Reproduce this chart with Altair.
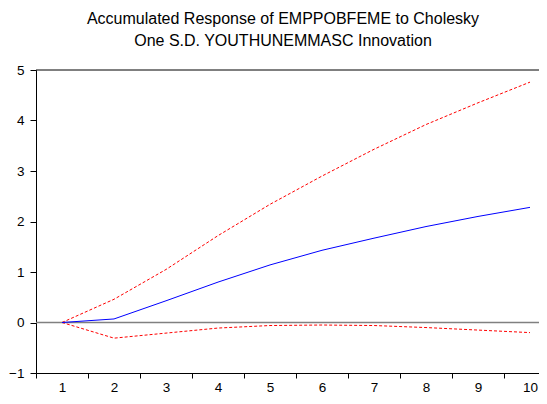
import altair as alt
import pandas as pd

periods = [1, 2, 3, 4, 5, 6, 7, 8, 9, 10]
response = [0.0, 0.07, 0.43, 0.80, 1.14, 1.43, 1.67, 1.90, 2.10, 2.28]
upper = [0.0, 0.46, 1.05, 1.72, 2.34, 2.90, 3.43, 3.92, 4.35, 4.76]
lower = [0.0, -0.31, -0.21, -0.11, -0.06, -0.05, -0.06, -0.10, -0.15, -0.20]
y_ticks = [-1, 0, 1, 2, 3, 4, 5]
title_lines = ["Accumulated Response of EMPPOBFEME to Cholesky",
               "One S.D. YOUTHUNEMMASC Innovation"]

FONT = "Liberation Sans"

df_resp = pd.DataFrame({"period": periods, "value": response})
df_up = pd.DataFrame({"period": periods, "value": upper})
df_lo = pd.DataFrame({"period": periods, "value": lower})

xscale = alt.Scale(domain=[0.5, 10.173], nice=False, zero=False)
yscale = alt.Scale(domain=[-1, 5], nice=False, zero=False)

xax = alt.Axis(values=periods, tickOffset=-26, labelOffset=26, title=None,
               grid=False, tickSize=5, labelPadding=2, labelFontSize=13.5,
               labelFont=FONT, labelColor="#000000", domainColor="#000000",
               tickColor="#000000", labelAngle=0)
yax = alt.Axis(values=y_ticks, title=None, grid=False, tickSize=6,
               labelPadding=6, labelFontSize=13.5, labelFont=FONT,
               labelColor="#000000", domainColor="#000000", tickColor="#000000")

X = alt.X("period:Q", scale=xscale, axis=xax)
Y = alt.Y("value:Q", scale=yscale, axis=yax)

zero_rule = alt.Chart(pd.DataFrame({"v": [0]})).mark_rule(
    color="#808080", strokeWidth=1.5).encode(y=alt.Y("v:Q", scale=yscale, axis=yax))
top_rule = alt.Chart(pd.DataFrame({"v": [5]})).mark_rule(
    color="#000000", strokeWidth=1).encode(y=alt.Y("v:Q", scale=yscale, axis=yax))

up_line = alt.Chart(df_up).mark_line(color="#ff0000", strokeWidth=1,
                                      strokeDash=[3, 2]).encode(x=X, y=Y)
lo_line = alt.Chart(df_lo).mark_line(color="#ff0000", strokeWidth=1,
                                      strokeDash=[3, 2]).encode(x=X, y=Y)
resp_line = alt.Chart(df_resp).mark_line(color="#0000ff", strokeWidth=1).encode(x=X, y=Y)

chart = alt.layer(zero_rule, top_rule, up_line, lo_line, resp_line).properties(
    width=503, height=303,
    title=alt.TitleParams(text=title_lines, fontSize=16, font=FONT,
                          fontWeight="normal", color="#000000", lineHeight=22,
                          anchor="middle", dx=-4.5, offset=14.5),
    autosize=alt.AutoSizeParams(type="none"),
    padding={"left": 28, "top": 62, "right": 0, "bottom": 23},
).configure_view(stroke=None)

chart.save("out.html", embed_options={"renderer": "svg", "actions": False})
